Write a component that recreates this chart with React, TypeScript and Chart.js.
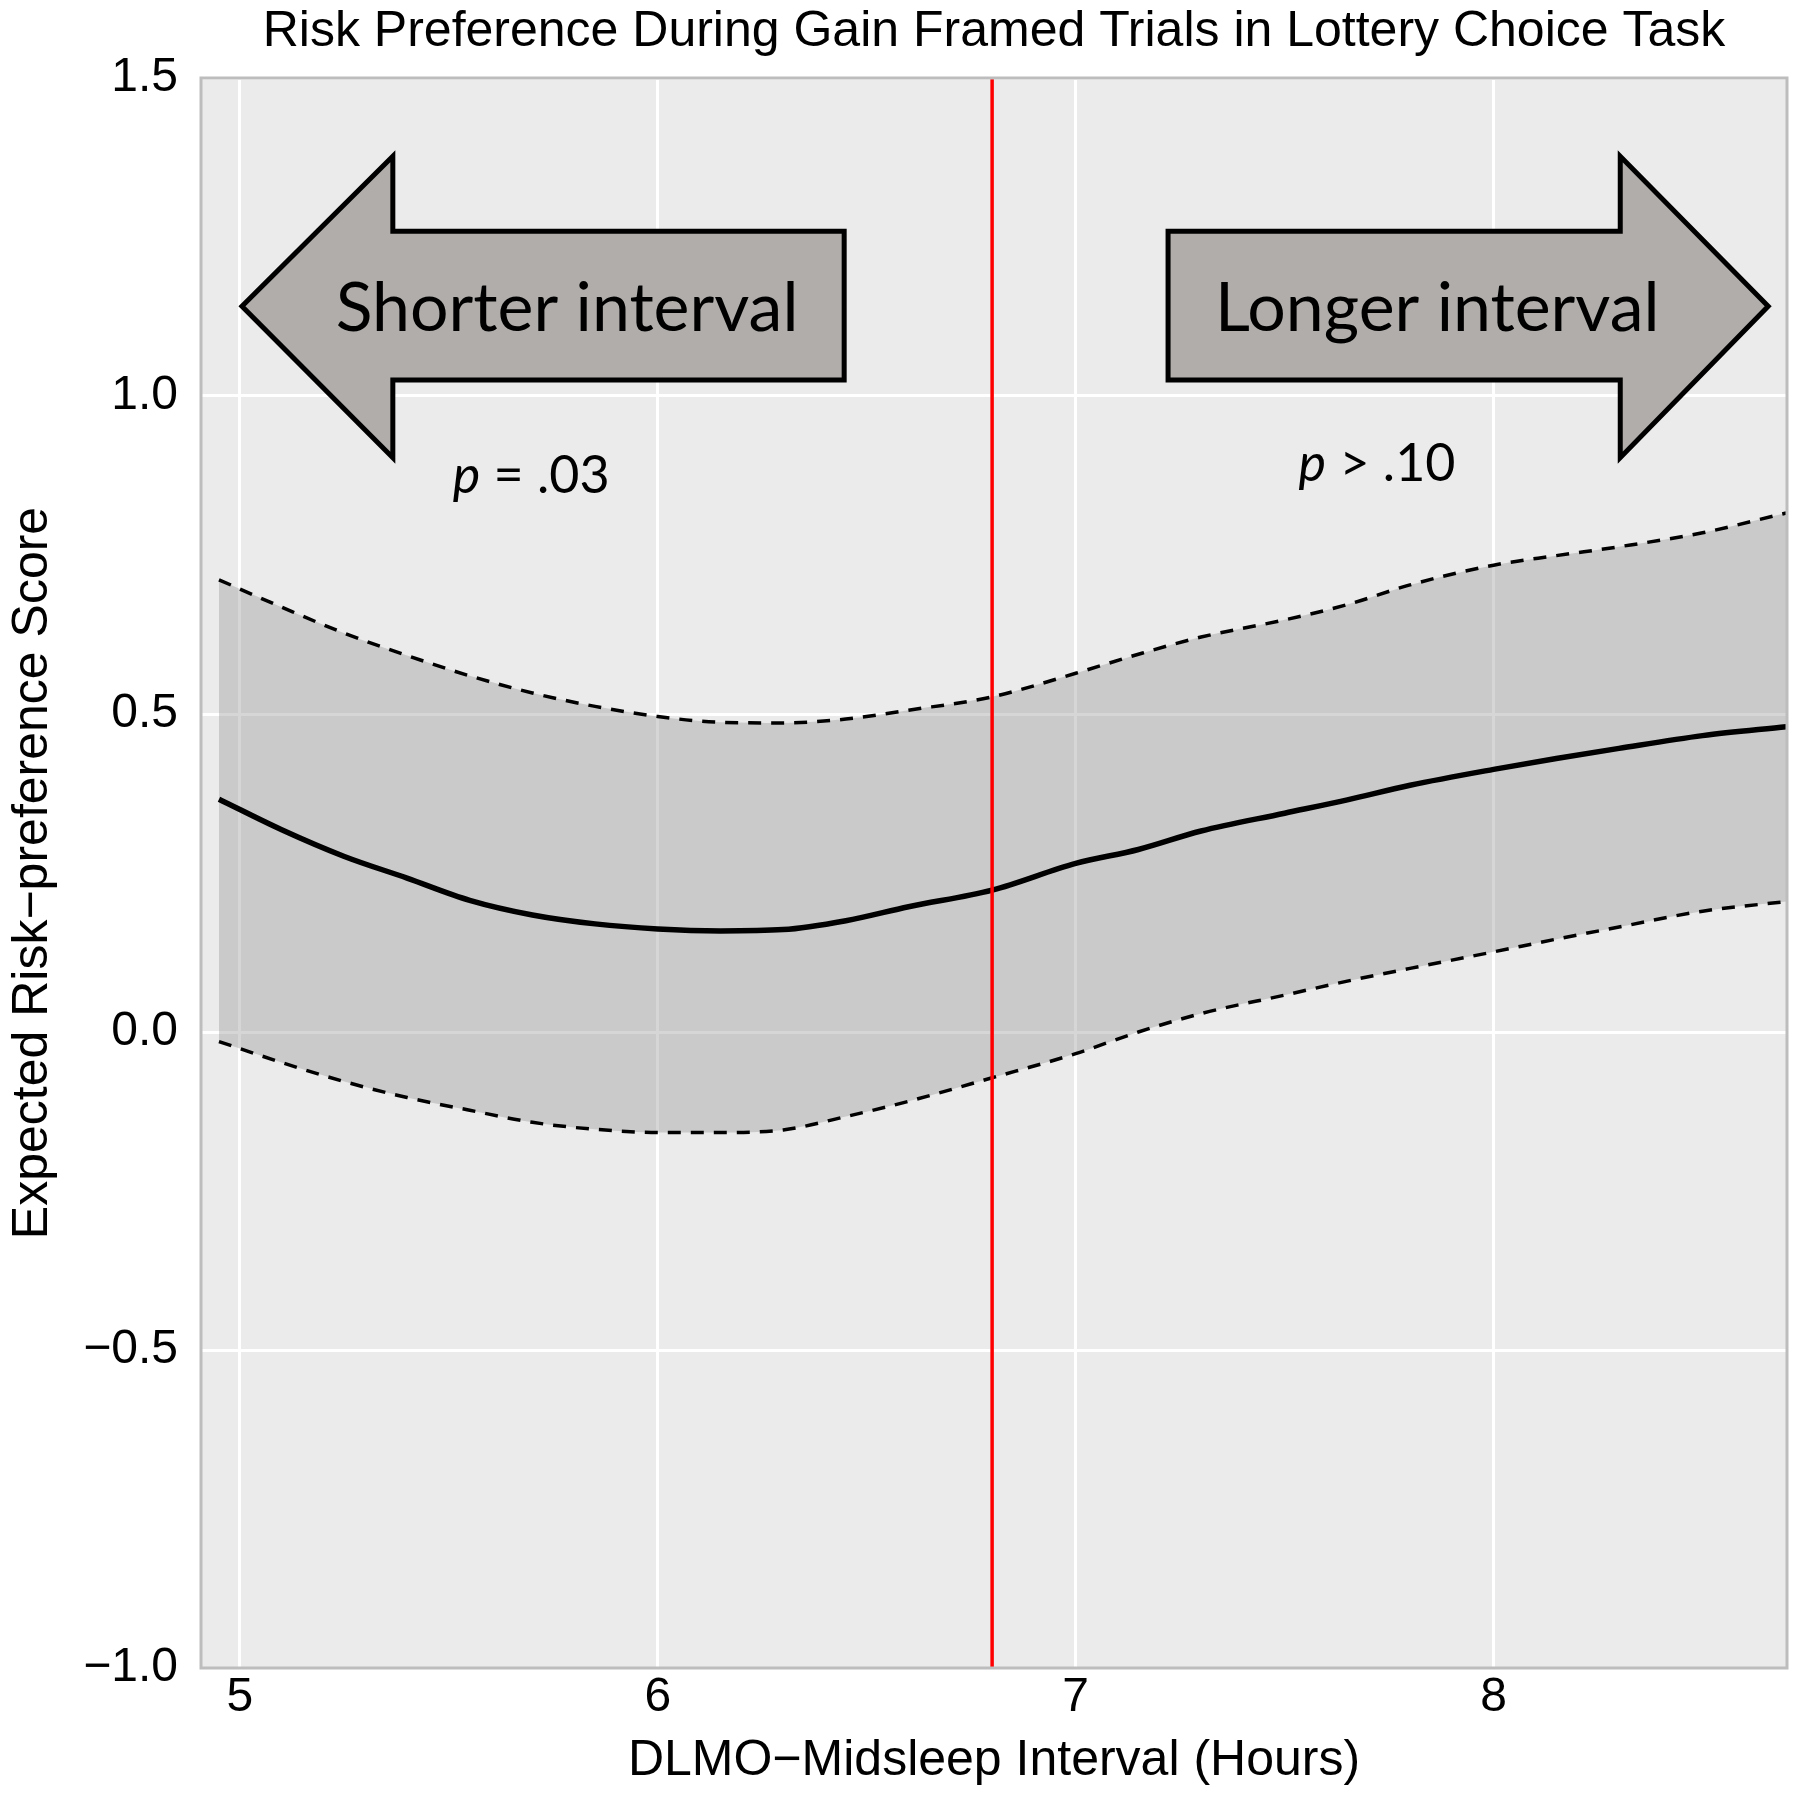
import React, { useEffect, useRef } from "react";
import { Chart, registerables } from "chart.js";

Chart.register(...registerables);

// ---- data ----
const xValues = [4.95, 5.1, 5.25, 5.4, 5.55, 5.7, 5.85, 6.0, 6.15, 6.3, 6.45, 6.6, 6.8, 7.0, 7.15, 7.3, 7.5, 7.65, 7.8, 8.0, 8.15, 8.3, 8.5, 8.7];
const meanValues = [0.366, 0.318, 0.276, 0.242, 0.207, 0.184, 0.17, 0.162, 0.159, 0.161, 0.175, 0.197, 0.223, 0.265, 0.287, 0.316, 0.344, 0.365, 0.388, 0.413, 0.43, 0.446, 0.466, 0.48];
const upperValues = [0.711, 0.668, 0.627, 0.592, 0.56, 0.533, 0.512, 0.496, 0.487, 0.486, 0.492, 0.506, 0.527, 0.564, 0.594, 0.621, 0.648, 0.672, 0.703, 0.734, 0.749, 0.763, 0.785, 0.816];
const lowerValues = [-0.015, -0.048, -0.078, -0.103, -0.123, -0.142, -0.153, -0.158, -0.158, -0.154, -0.133, -0.109, -0.072, -0.034, 0.0, 0.029, 0.058, 0.08, 0.1, 0.126, 0.146, 0.165, 0.19, 0.205];
const xTicks = [5, 6, 7, 8];
const yTicks = [-1.0, -0.5, 0.0, 0.5, 1.0, 1.5];
const cutoffX = 6.8;

const titleText = "Risk Preference During Gain Framed Trials in Lottery Choice Task";
const xTitleText = "DLMO\u2212Midsleep Interval (Hours)";
const yTitleText = "Expected Risk\u2212preference Score";
const arrowLabels = ["Shorter interval", "Longer interval"];
const pItalic = ["p", "p"];
const pRest = [" = .03", " > .10"];

// ---- layout / annotation geometry (data units) ----
const X_MIN = 4.907;
const X_MAX = 8.702;
const Y_MIN = -1.0;
const Y_MAX = 1.5;

const arrowShapes = [
  { tipX: 5.005, headX: 5.366, endX: 6.446, tipY: 1.141, headTop: 1.377, headBottom: 0.903, bodyTop: 1.259, bodyBottom: 1.025, labelX: 5.783, labelY: 1.102, labelW: 466 },
  { tipX: 8.657, headX: 8.303, endX: 7.221, tipY: 1.141, headTop: 1.377, headBottom: 0.903, bodyTop: 1.259, bodyBottom: 1.025, labelX: 7.865, labelY: 1.102, labelW: 444 },
];
const pLabelPos = [
  { x: 5.697, y: 0.848 },
  { x: 7.721, y: 0.867 },
];

const SANS = "'Liberation Sans', Arial, sans-serif";
const HUMAN = "Lato, 'Open Sans', sans-serif";

const fmtY = (v: number) => (v < 0 ? "\u2212" : "") + Math.abs(v).toFixed(1);

const panelPlugin = {
  id: "panelDecor",
  beforeDraw(chart: any) {
    const { ctx, chartArea: a } = chart;
    ctx.save();
    ctx.fillStyle = "#EBEBEB";
    ctx.fillRect(a.left, a.top, a.right - a.left, a.bottom - a.top);
    ctx.restore();
  },
  afterDatasetsDraw(chart: any) {
    const { ctx } = chart;
    const xs = chart.scales.x;
    const ys = chart.scales.y;
    const px = (v: number) => xs.getPixelForValue(v);
    const py = (v: number) => ys.getPixelForValue(v);
    ctx.save();
    // arrows
    ctx.font = `100px ${HUMAN}`;
    const w0 = ctx.measureText(arrowLabels[0]).width;
    const labelSize = Math.round((100 * arrowShapes[0].labelW) / w0);
    arrowShapes.forEach((s, i) => {
      ctx.beginPath();
      ctx.moveTo(px(s.tipX), py(s.tipY));
      ctx.lineTo(px(s.headX), py(s.headTop));
      ctx.lineTo(px(s.headX), py(s.bodyTop));
      ctx.lineTo(px(s.endX), py(s.bodyTop));
      ctx.lineTo(px(s.endX), py(s.bodyBottom));
      ctx.lineTo(px(s.headX), py(s.bodyBottom));
      ctx.lineTo(px(s.headX), py(s.headBottom));
      ctx.closePath();
      ctx.fillStyle = "#B0ADAB";
      ctx.fill();
      ctx.lineWidth = 5;
      ctx.lineJoin = "miter";
      ctx.strokeStyle = "#000000";
      ctx.stroke();
      ctx.fillStyle = "#000000";
      ctx.font = `${labelSize}px ${HUMAN}`;
      ctx.textAlign = "center";
      ctx.textBaseline = "alphabetic";
      ctx.fillText(arrowLabels[i], px(s.labelX), py(s.labelY));
    });
    // p labels
    pLabelPos.forEach((p, i) => {
      const fi = `italic 52px ${HUMAN}`;
      const fr = `52px ${HUMAN}`;
      ctx.font = fi;
      const wi = ctx.measureText(pItalic[i]).width;
      ctx.font = fr;
      const wr = ctx.measureText(pRest[i]).width;
      const start = px(p.x) - (wi + wr) / 2;
      ctx.textAlign = "left";
      ctx.textBaseline = "alphabetic";
      ctx.font = fi;
      ctx.fillText(pItalic[i], start, py(p.y));
      ctx.font = fr;
      ctx.fillText(pRest[i], start + wi, py(p.y));
    });
    ctx.restore();
  },
  afterDraw(chart: any) {
    const { ctx, chartArea: a } = chart;
    ctx.save();
    ctx.strokeStyle = "#BDBDBD";
    ctx.lineWidth = 3;
    ctx.strokeRect(a.left, a.top, a.right - a.left, a.bottom - a.top);
    ctx.fillStyle = "#000000";
    ctx.textAlign = "center";
    ctx.textBaseline = "middle";
    ctx.font = `50px ${SANS}`;
    ctx.fillText(titleText, (a.left + a.right) / 2, 32);
    ctx.font = `50px ${SANS}`;
    ctx.fillText(xTitleText, (a.left + a.right) / 2, 1761);
    ctx.translate(33, (a.top + a.bottom) / 2);
    ctx.rotate(-Math.PI / 2);
    ctx.fillText(yTitleText, 0, 0);
    ctx.restore();
  },
};

export default function App() {
  const ref = useRef<HTMLCanvasElement>(null);
  useEffect(() => {
    document.body.style.margin = "0";
    const canvas = ref.current!;
    const pts = (ys: number[]) => xValues.map((x, i) => ({ x, y: ys[i] }));
    const chart = new Chart(canvas, {
      type: "line",
      data: {
        datasets: [
          {
            label: "cutoff",
            data: [
              { x: cutoffX, y: Y_MIN },
              { x: cutoffX, y: Y_MAX },
            ],
            borderColor: "#FF0000",
            borderWidth: 3.5,
            pointRadius: 0,
            fill: false,
          },
          {
            label: "mean",
            data: pts(meanValues),
            borderColor: "#000000",
            borderWidth: 5.5,
            pointRadius: 0,
            cubicInterpolationMode: "monotone",
            fill: false,
          },
          {
            label: "upper",
            data: pts(upperValues),
            borderColor: "#000000",
            borderWidth: 3.5,
            borderDash: [13, 10],
            pointRadius: 0,
            cubicInterpolationMode: "monotone",
            backgroundColor: "rgba(153,153,153,0.4)",
            fill: 3,
          },
          {
            label: "lower",
            data: pts(lowerValues),
            borderColor: "#000000",
            borderWidth: 3.5,
            borderDash: [13, 10],
            pointRadius: 0,
            cubicInterpolationMode: "monotone",
            fill: false,
          },
        ],
      } as any,
      options: {
        responsive: false,
        animation: false,
        devicePixelRatio: 1,
        events: [],
        layout: { padding: { top: 78, right: 13, left: 0, bottom: 0 } },
        plugins: {
          legend: { display: false },
          tooltip: { enabled: false },
          title: { display: false },
          filler: { drawTime: "beforeDatasetsDraw" },
        },
        scales: {
          x: {
            type: "linear",
            min: X_MIN,
            max: X_MAX,
            afterBuildTicks: (s: any) => {
              s.ticks = xTicks.map((v) => ({ value: v }));
            },
            afterFit: (s: any) => {
              s.height = 131;
            },
            grid: { color: "#FFFFFF", lineWidth: 3, drawTicks: false },
            border: { display: false },
            ticks: {
              font: { family: SANS, size: 48 },
              color: "#000000",
              padding: 1,
              maxRotation: 0,
              callback: (v: any) => String(v),
            },
          },
          y: {
            type: "linear",
            min: Y_MIN,
            max: Y_MAX,
            afterBuildTicks: (s: any) => {
              s.ticks = yTicks.map((v) => ({ value: v }));
            },
            afterFit: (s: any) => {
              s.width = 201;
            },
            grid: { color: "#FFFFFF", lineWidth: 3, drawTicks: false },
            border: { display: false },
            ticks: {
              font: { family: SANS, size: 48 },
              color: "#000000",
              padding: 23,
              callback: (v: any) => fmtY(Number(v)),
            },
          },
        },
      } as any,
      plugins: [panelPlugin],
    });
    return () => chart.destroy();
  }, []);
  return (
    <div style={{ position: "absolute", left: 0, top: 0, width: 1800, height: 1799, background: "#FFFFFF" }}>
      <canvas ref={ref} width={1800} height={1799} style={{ display: "block", width: 1800, height: 1799 }} />
    </div>
  );
}
